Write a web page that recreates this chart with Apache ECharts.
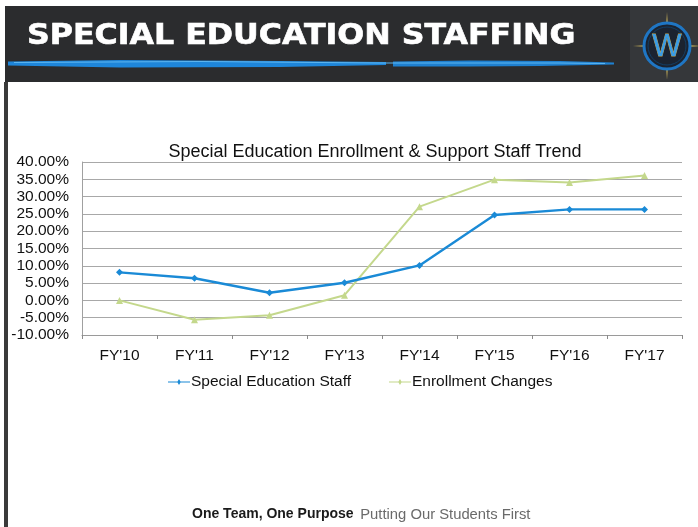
<!DOCTYPE html>
<html>
<head>
<meta charset="utf-8">
<script src="https://cdn.jsdelivr.net/npm/echarts@6/dist/echarts.min.js"></script>
<style>
  html, body { margin: 0; padding: 0; background: #ffffff; }
  #chart { width: 698px; height: 527px; }
</style>
</head>
<body>
<div id="chart"></div>
<script>
// Fiscal years along the x axis
var categories = ["FY'10", "FY'11", "FY'12", "FY'13", "FY'14", "FY'15", "FY'16", "FY'17"];
// Percent change in special education support staff
var staffChange = [8.1, 6.4, 2.2, 5.1, 10.1, 24.7, 26.3, 26.3];
// Percent change in special education enrollment
var enrollmentChange = [0.0, -5.6, -4.3, 1.5, 27.1, 34.9, 34.1, 36.1];
// Y axis range and step, in percent
var yMin = -10, yMax = 40, yStep = 5;

var chart = echarts.init(document.getElementById('chart'), null, { renderer: 'canvas' });

var font = '"Liberation Sans", Arial, sans-serif';
var legendIcon = 'path://M0,2.6h9.5l1.5,-2.6l1.5,2.6h9.5v0.8h-9.5l-1.5,2.6l-1.5,-2.6h-9.5z';

// four-pointed compass star behind the logo
function starPoints(cx, cy, outer, inner) {
  var pts = [];
  for (var i = 0; i < 8; i++) {
    var a = -Math.PI / 2 + i * Math.PI / 4;
    var r = (i % 2 === 0) ? outer : inner;
    pts.push([cx + r * Math.cos(a), cy + r * Math.sin(a)]);
  }
  return pts;
}

var option = {
  backgroundColor: '#ffffff',
  animation: false,
  title: {
    text: 'Special Education Enrollment & Support Staff Trend',
    left: 370, top: 138, textAlign: 'center',
    textStyle: { fontFamily: font, fontSize: 18, fontWeight: 'normal', color: '#111' }
  },
  legend: {
    top: 369, left: 163,
    itemGap: 38, itemWidth: 22, itemHeight: 6,
    textStyle: { fontFamily: font, fontSize: 15.5, color: '#111', padding: [0, 0, 0, -4] },
    data: [
      { name: 'Special Education Staff', icon: legendIcon },
      { name: 'Enrollment Changes', icon: legendIcon }
    ]
  },
  grid: { left: 82, right: 16, top: 162, height: 173, containLabel: false },
  xAxis: [
    {
      type: 'category', data: categories, boundaryGap: true, position: 'bottom',
      axisLine: { show: false }, axisTick: { show: false },
      axisLabel: { fontFamily: font, fontSize: 15.5, color: '#111', margin: 13 }
    },
    {
      type: 'category', data: categories, boundaryGap: true, position: 'bottom',
      axisLine: { show: true, onZero: true, lineStyle: { color: '#9a9a9a', width: 1 } },
      axisTick: { show: true, length: 4, lineStyle: { color: '#8a8a8a' } },
      axisLabel: { show: false }
    }
  ],
  yAxis: {
    type: 'value', min: yMin, max: yMax, interval: yStep,
    axisLine: { show: true, lineStyle: { color: '#a0a0a0' } },
    axisTick: { show: false },
    splitLine: { lineStyle: { color: '#a8a8a8', width: 1 } },
    axisLabel: {
      fontFamily: font, fontSize: 15.5, color: '#111', margin: 13,
      formatter: function (v) { return v.toFixed(2) + '%'; }
    }
  },
  series: [
    {
      name: 'Special Education Staff', type: 'line', data: staffChange,
      xAxisIndex: 0,
      symbol: 'diamond', symbolSize: 7,
      lineStyle: { color: '#1a8ad6', width: 2.4 },
      itemStyle: { color: '#1a8ad6' },
      z: 3
    },
    {
      name: 'Enrollment Changes', type: 'line', data: enrollmentChange,
      xAxisIndex: 0,
      symbol: 'triangle', symbolSize: 7,
      lineStyle: { color: '#c4d88c', width: 2 },
      itemStyle: { color: '#c4d88c' },
      z: 2
    }
  ],
  graphic: [
    // dark header band
    { type: 'rect', shape: { x: 5, y: 6, width: 693, height: 76 }, style: { fill: '#2b2c2e' }, z: -10 },
    { type: 'rect', shape: { x: 630, y: 6, width: 68, height: 76 }, style: { fill: '#35373a' }, z: -9 },
    // left page border
    { type: 'rect', shape: { x: 4, y: 82, width: 4, height: 445 }, style: { fill: '#3a3a3a' }, z: -10 },
    // blue brush stroke under the heading
    { type: 'polygon', shape: { points: [[8, 61.5], [120, 60], [280, 61], [386, 62], [386, 65], [280, 67], [120, 67.5], [8, 65.5]] },
      style: { fill: '#1e86da' }, z: -8 },
    { type: 'polygon', shape: { points: [[393, 61.5], [470, 60.5], [560, 61], [614, 62.5], [614, 64.5], [540, 66], [470, 66.5], [393, 66.5]] },
      style: { fill: '#1e80d0' }, z: -8 },
    { type: 'polyline', shape: { points: [[14, 62.5], [200, 61.5], [380, 63], [560, 63], [605, 63.5]] },
      style: { stroke: '#5db6f0', lineWidth: 1, fill: null }, z: -7 },
    // heading
    { type: 'text', x: 27, y: 37, scaleX: 1.15, originX: 0,
      style: { text: 'SPECIAL EDUCATION STAFFING', fill: '#ffffff', stroke: '#ffffff', lineWidth: 0.6,
        verticalAlign: 'middle',
        font: 'bold 27.5px "DejaVu Sans", "Liberation Sans", Arial, sans-serif' }, z: 5 },
    // compass logo
    { type: 'polygon', shape: { points: starPoints(667, 46, 34, 3) }, style: { fill: '#c9b25a' }, z: 3 },
    { type: 'circle', shape: { cx: 667, cy: 46, r: 23 }, style: { fill: '#1b2330', stroke: '#1f76c4', lineWidth: 3 }, z: 4 },
    { type: 'circle', shape: { cx: 667, cy: 46, r: 19 }, style: { fill: null, stroke: '#123e66', lineWidth: 1 }, z: 4 },
    { type: 'text', x: 667, y: 47,
      style: { text: 'W', fill: '#3a9de6', stroke: '#c2a653', lineWidth: 0.8, align: 'center', verticalAlign: 'middle',
        font: '31px "Liberation Sans", Arial, sans-serif' }, z: 5 },
    // footer tagline
    { type: 'text', left: 192, top: 507,
      style: { rich: {
        a: { fontFamily: font, fontSize: 14, fontWeight: 'bold', fill: '#1a1a1a' },
        b: { fontFamily: font, fontSize: 14.8, fill: '#6a6a6a' }
      }, text: '{a|One Team, One Purpose}  {b|Putting Our Students First}' } }
  ]
};

chart.setOption(option);
</script>
</body>
</html>
